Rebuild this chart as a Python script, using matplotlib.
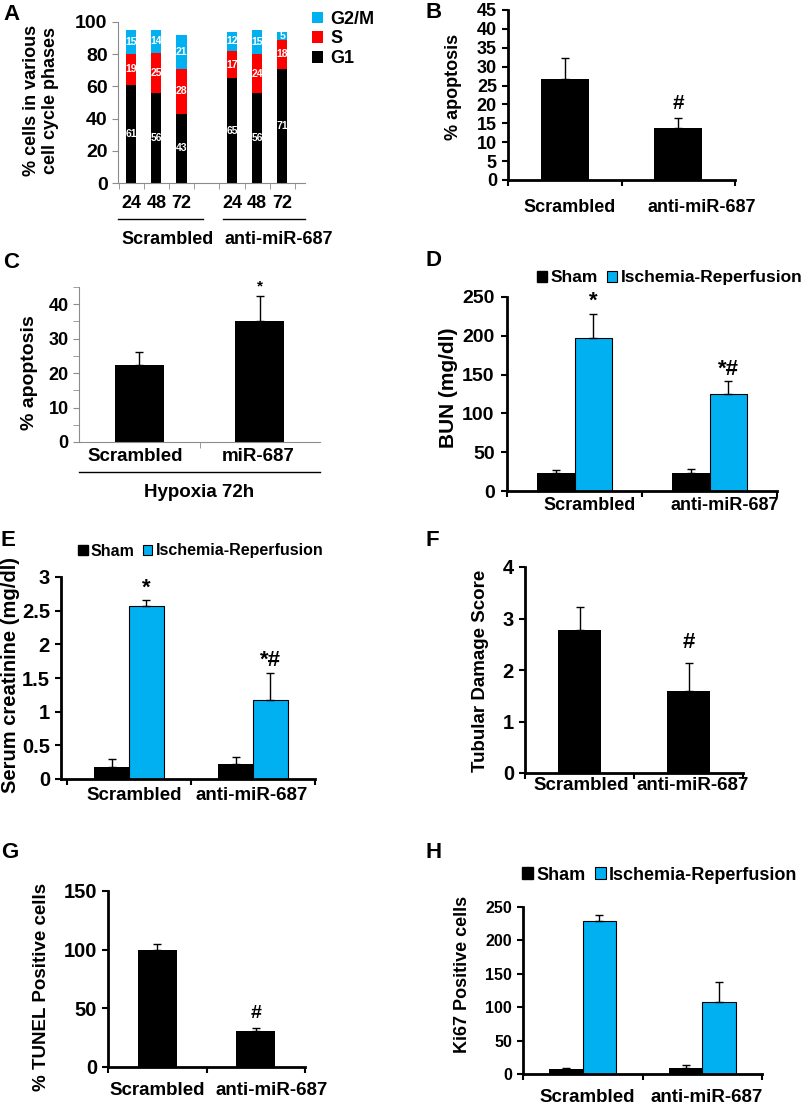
import numpy as np
import matplotlib
matplotlib.use('Agg')
import matplotlib.pyplot as plt
from matplotlib.patches import Patch

plt.rcParams['font.family'] = ['Liberation Sans', 'DejaVu Sans']
plt.rcParams['font.weight'] = 'bold'

# ---- datos ----
# A: ciclo celular
cc_times = ['24', '48', '72']
cc_groups = ['Scrambled', 'anti-miR-687']
g1 = [61, 56, 43, 65, 56, 71]
s_phase = [19, 25, 28, 17, 24, 18]
g2m = [15, 14, 21, 12, 15, 5]

# B: apoptosis
b_labels = ['Scrambled', 'anti-miR-687']
b_mean = [26.7, 13.7]
b_err = [5.7, 2.6]
b_marks = ['', '#']

# C: apoptosis hipoxia 72h
c_labels = ['Scrambled', 'miR-687']
c_mean = [22.5, 35.1]
c_err = [3.7, 7.2]
c_marks = ['', '*']

# D: BUN
pair_labels = ['Scrambled', 'anti-miR-687']
bun_sham = [23.6, 22.8]
bun_sham_err = [3.5, 6.0]
bun_ir = [196.7, 124.6]
bun_ir_err = [32.0, 17.0]
bun_marks = ['*', '*#']

# E: creatinina
cr_sham = [0.18, 0.22]
cr_sham_err = [0.12, 0.10]
cr_ir = [2.57, 1.17]
cr_ir_err = [0.09, 0.41]
cr_marks = ['*', '*#']

# F: dano tubular
f_mean = [2.78, 1.59]
f_err = [0.45, 0.55]
f_marks = ['', '#']

# G: TUNEL
g_mean = [99.7, 31.0]
g_err = [5.0, 2.5]
g_marks = ['', '#']

# H: Ki67
ki_sham = [7, 9]
ki_sham_err = [2, 5]
ki_ir = [229, 108]
ki_ir_err = [9, 29]

W, H = 805, 1105
BLUE = '#00B0F0'
RED = '#FF0000'
GRAY = '#8c8c8c'

fig = plt.figure(figsize=(W / 100, H / 100), dpi=100)


def add_ax(x0, y0, x1, y1):
    ax = fig.add_axes([x0 / W, 1 - y1 / H, (x1 - x0) / W, (y1 - y0) / H])
    ax.spines[['top', 'right']].set_visible(False)
    return ax


def ftext(x, y, s, **kw):
    kw.setdefault('ha', 'center')
    kw.setdefault('va', 'center')
    fig.text(x / W, 1 - y / H, s, **kw)


def black_axes(ax, ysize):
    for sp in ['left', 'bottom']:
        ax.spines[sp].set_linewidth(2)
        ax.spines[sp].set_color('black')
    ax.tick_params(axis='y', width=1.5, length=4, labelsize=ysize, pad=4)
    ax.set_xlim(-0.5, 1.5)
    ax.set_xticks([-0.5, 0.5, 1.5], minor=True)
    ax.tick_params(axis='x', which='minor', width=1.5, length=4)


def xlabels(ax, labels, shifts, size, pad):
    ax.set_xticks(np.arange(len(labels)) + np.array(shifts), labels)
    ax.tick_params(axis='x', which='major', length=0, labelsize=size, pad=pad)


def err(ax, x, mean, e):
    ax.errorbar(x, mean, yerr=[np.zeros(len(e)), e], fmt='none', ecolor='black',
                elinewidth=1, capsize=3, capthick=1)


def marks(ax, x, mean, e, ms, size, off):
    for xi, m, ei, s in zip(x, mean, e, ms):
        if s:
            ax.annotate(s, (xi, m + ei), xytext=(0, off), textcoords='offset points',
                        ha='center', va='bottom', fontsize=size)


def pair_legend(ax, x_px, y_px, x0, y0, x1, y1, size):
    h = [Patch(facecolor='black', edgecolor='black'),
         Patch(facecolor=BLUE, edgecolor='black', linewidth=0.8)]
    ax.legend(h, ['Sham', 'Ischemia-Reperfusion'], ncol=2, frameon=False,
              loc='center left',
              bbox_to_anchor=((x_px - x0) / (x1 - x0), (y1 - y_px) / (y1 - y0)),
              borderpad=0, borderaxespad=0, handlelength=0.6, handleheight=0.6,
              handletextpad=0.2, columnspacing=0.5, fontsize=size)


# ---------- A ----------
A = (118, 22, 305, 183)
axA = add_ax(*A)
xA = np.r_[np.arange(3), np.arange(3) + 4]
bA1 = axA.bar(xA, g1, 0.4, color='black', label='G1')
bA2 = axA.bar(xA, s_phase, 0.4, bottom=g1, color=RED, label='S')
bA3 = axA.bar(xA, g2m, 0.4, bottom=np.add(g1, s_phase), color=BLUE, label='G2/M')
for bars, vals in [(bA1, g1), (bA2, s_phase), (bA3, g2m)]:
    axA.bar_label(bars, labels=[str(v) for v in vals], label_type='center',
                  color='white', fontsize=7.5, fontweight='bold')
axA.set_ylim(0, 100)
axA.set_xlim(-0.52, 6.9)
for sp in ['left', 'bottom']:
    axA.spines[sp].set_color(GRAY)
    axA.spines[sp].set_linewidth(0.8)
axA.set_yticks(np.arange(0, 101, 20))
axA.tick_params(axis='y', color=GRAY, length=4, labelsize=14)
axA.set_xticks(xA, cc_times * 2)
axA.tick_params(axis='x', length=0, labelsize=13, pad=9)
axA.set_xticks(np.arange(-0.5, 7), minor=True)
axA.tick_params(axis='x', which='minor', color=GRAY, length=4)
hA = [bA3, bA2, bA1]
axA.legend(hA, ['G2/M', 'S', 'G1'], frameon=False, loc='upper left',
           bbox_to_anchor=(1.04, 1.07), borderpad=0, borderaxespad=0,
           handlelength=0.6, handleheight=0.6, handletextpad=0.4,
           labelspacing=0.15, fontsize=13)
tA = axA.get_xaxis_transform()
axA.plot([-0.52, 2.84], [-0.224, -0.224], color='black', lw=1, transform=tA, clip_on=False)
axA.plot([3.64, 6.9], [-0.224, -0.224], color='black', lw=1, transform=tA, clip_on=False)
for gx, gname in zip([1.43, 5.87], cc_groups):
    axA.text(gx, -0.354, gname, transform=tA, ha='center', va='center', fontsize=13)
ftext(41, 100, '% cells in various\ncell cycle phases', rotation=90, fontsize=13)
ftext(11, 15, 'A', fontsize=16)

# ---------- B ----------
B = (508, 10, 735, 180)
axB = add_ax(*B)
axB.bar([0, 1], b_mean, 0.42, color='black')
err(axB, [0, 1], b_mean, b_err)
black_axes(axB, 13)
axB.set_ylim(0, 45)
axB.set_yticks(np.arange(0, 46, 5))
xlabels(axB, b_labels, [0.04, 0.21], 13, 14)
marks(axB, [0, 1], b_mean, b_err, b_marks, 15, 4)
ftext(453, 87, '% apoptosis', rotation=90, fontsize=13)
ftext(434, 12, 'B', fontsize=16)

# ---------- C ----------
C = (79, 287, 320, 442)
axC = add_ax(*C)
axC.bar([0, 1], c_mean, 0.41, color='black')
err(axC, [0, 1], c_mean, c_err)
for sp in ['left', 'bottom']:
    axC.spines[sp].set_color(GRAY)
    axC.spines[sp].set_linewidth(0.8)
axC.set_ylim(0, 45)
axC.set_xlim(-0.5, 1.5)
axC.set_yticks(np.arange(0, 41, 10))
axC.set_yticks(np.arange(5, 46, 10), minor=True)
axC.tick_params(axis='y', which='both', color=GRAY, length=4, labelsize=13)
axC.set_xticks([0.5], minor=True)
axC.tick_params(axis='x', which='minor', color=GRAY, length=4)
xlabels(axC, c_labels, [-0.03, -0.01], 13.5, 4)
marks(axC, [0, 1], c_mean, c_err, c_marks, 11, 2)
tC = axC.get_xaxis_transform()
axC.plot([-0.5, 1.5], [-0.194, -0.194], color='black', lw=1, transform=tC, clip_on=False)
axC.text(0.5, -0.323, 'Hypoxia 72h', transform=tC, ha='center', va='center', fontsize=13.5)
ftext(30, 373, '% apoptosis', rotation=90, fontsize=14)
ftext(11, 262, 'C', fontsize=16)

# ---------- D ----------
D = (507, 297, 777, 491)
axD = add_ax(*D)
xD = np.arange(2)
axD.bar(xD - 0.14, bun_sham, 0.28, color='black')
axD.bar(xD + 0.14, bun_ir, 0.28, color=BLUE, edgecolor='black', linewidth=0.8)
err(axD, xD - 0.14, bun_sham, bun_sham_err)
err(axD, xD + 0.14, bun_ir, bun_ir_err)
black_axes(axD, 14)
axD.tick_params(axis='y', pad=5)
axD.set_ylim(0, 250)
axD.set_yticks(np.arange(0, 251, 50))
xlabels(axD, pair_labels, [0.11, 0.11], 13, 4)
marks(axD, xD + 0.14, bun_ir, bun_ir_err, bun_marks, 16, 1)
pair_legend(axD, 537, 278, *D, 12.5)
ftext(448, 388, 'BUN (mg/dl)', rotation=90, fontsize=15)
ftext(433, 261, 'D', fontsize=16)

# ---------- E ----------
E = (61, 577, 315, 779)
axE = add_ax(*E)
axE.bar(xD - 0.14, cr_sham, 0.28, color='black')
axE.bar(xD + 0.14, cr_ir, 0.28, color=BLUE, edgecolor='black', linewidth=0.8)
err(axE, xD - 0.14, cr_sham, cr_sham_err)
err(axE, xD + 0.14, cr_ir, cr_ir_err)
black_axes(axE, 14.5)
axE.set_xlim(-0.55, 1.5)
axE.set_ylim(0, 3)
axE.set_yticks(np.arange(0, 3.01, 0.5), ['0', '0.5', '1', '1.5', '2', '2.5', '3'])
xlabels(axE, pair_labels, [0.04, -0.01], 13.5, 6)
marks(axE, xD + 0.14, cr_ir, cr_ir_err, cr_marks, 16, 1)
pair_legend(axE, 78, 551, *E, 11.5)
ftext(11, 675, 'Serum creatinine (mg/dl)', rotation=90, fontsize=14.5)
ftext(8, 541, 'E', fontsize=16)

# ---------- F ----------
F = (525, 567, 743, 773)
axF = add_ax(*F)
axF.bar([0, 1], f_mean, 0.4, color='black')
err(axF, [0, 1], f_mean, f_err)
black_axes(axF, 14.5)
axF.set_ylim(0, 4)
axF.set_yticks(np.arange(0, 5, 1))
xlabels(axF, b_labels, [0.02, 0.04], 13.5, 3)
marks(axF, [0, 1], f_mean, f_err, f_marks, 16, 7)
ftext(480, 671, 'Tubular Damage Score', rotation=90, fontsize=13.5)
ftext(432, 540, 'F', fontsize=16)

# ---------- G ----------
G = (108, 891, 305, 1067)
axG = add_ax(*G)
axG.bar([0, 1], g_mean, 0.4, color='black')
err(axG, [0, 1], g_mean, g_err)
black_axes(axG, 14.5)
axG.set_ylim(0, 150)
axG.set_yticks(np.arange(0, 151, 50))
xlabels(axG, b_labels, [0.0, 0.16], 13.5, 11)
marks(axG, [0, 1], g_mean, g_err, g_marks, 14, 4)
ftext(42, 987, '% TUNEL Positive cells', rotation=90, fontsize=13.5)
ftext(10, 852, 'G', fontsize=16)

# ---------- H ----------
Hp = (523, 907, 762, 1074)
axH = add_ax(*Hp)
axH.bar(xD - 0.14, ki_sham, 0.28, color='black')
axH.bar(xD + 0.14, ki_ir, 0.28, color=BLUE, edgecolor='black', linewidth=0.8)
err(axH, xD - 0.14, ki_sham, ki_sham_err)
err(axH, xD + 0.14, ki_ir, ki_ir_err)
black_axes(axH, 11.5)
axH.set_ylim(0, 250)
axH.set_yticks(np.arange(0, 251, 50))
xlabels(axH, pair_labels, [0.04, 0.04], 13.5, 11)
pair_legend(axH, 522, 875, *Hp, 13)
ftext(462, 974, 'Ki67 Positive cells', rotation=90, fontsize=13)
ftext(434, 852, 'H', fontsize=16)

fig.savefig('out.png', dpi=100, facecolor='white')
